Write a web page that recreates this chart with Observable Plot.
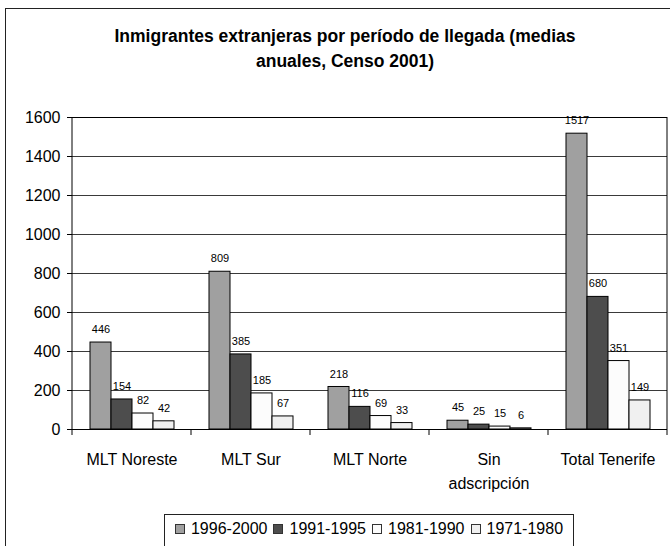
<!DOCTYPE html>
<html>
<head>
<meta charset="utf-8">
<script src="https://cdn.jsdelivr.net/npm/d3@7"></script>
<script src="https://cdn.jsdelivr.net/npm/@observablehq/plot@0.6"></script>
<style>
  html, body { margin: 0; padding: 0; width: 670px; height: 546px; overflow: hidden; background: #fff; }
  body { position: relative; font-family: "Liberation Sans", Arial, sans-serif; color: #000; }
  #frame { position: absolute; left: 5px; top: 8px; width: 720px; height: 600px; border: 1px solid #222; box-sizing: border-box; }
  #title { position: absolute; left: 45px; width: 600px; top: 24px; text-align: center; font-weight: bold; font-size: 17.5px; line-height: 25px; }
  #chart { position: absolute; left: 0; top: 90px; }
  #legend { position: absolute; left: 164px; top: 514px; width: 410px; height: 50px; border: 1px solid #222; box-sizing: border-box;
            display: flex; align-items: flex-start; justify-content: center; padding-top: 5px; font-size: 16px; }
  .item { display: flex; align-items: center; margin: 0 3px; }
  .sw { width: 8px; height: 8px; border: 1px solid #333; margin-right: 6px; }
</style>
</head>
<body>
<div id="frame"></div>
<div id="title">Inmigrantes extranjeras por período de llegada (medias<br>anuales, Censo 2001)</div>
<div id="chart"></div>
<div id="legend"></div>
<script>
const categories = ["MLT Noreste", "MLT Sur", "MLT Norte", "Sin\nadscripción", "Total Tenerife"];
const periods = ["1996-2000", "1991-1995", "1981-1990", "1971-1980"];
const v1996_2000 = [446, 809, 218, 45, 1517];
const v1991_1995 = [154, 385, 116, 25, 680];
const v1981_1990 = [82, 185, 69, 15, 351];
const v1971_1980 = [42, 67, 33, 6, 149];
const yTicks = [0, 200, 400, 600, 800, 1000, 1200, 1400, 1600];
const colors = ["#a0a0a0", "#4d4d4d", "#fcfcfc", "#f0f0f0"];

const series = [v1996_2000, v1991_1995, v1981_1990, v1971_1980];
const data = [];
categories.forEach((c, i) => periods.forEach((p, j) => data.push({cat: c, period: p, value: series[j][i]})));

const chart = Plot.plot({
  width: 670,
  height: 420,
  marginLeft: 72,
  marginRight: 3,
  marginTop: 27,
  marginBottom: 81,
  style: {fontFamily: "'Liberation Sans', Arial, sans-serif", color: "#000", background: "transparent"},
  fx: {domain: categories, padding: 0},
  x: {domain: periods, paddingInner: 0, paddingOuter: 0.77, axis: null},
  y: {domain: [0, 1600]},
  color: {domain: periods, range: colors},
  marks: [
    Plot.gridY(yTicks, {stroke: "#3a3a3a", strokeOpacity: 1, strokeWidth: 1}),
    Plot.ruleY([0, 1600], {stroke: "#000", strokeWidth: 1}),
    Plot.barY(data, {fx: "cat", x: "period", y: "value", fill: "period", stroke: "#000", strokeWidth: 1}),
    Plot.text(data, {fx: "cat", x: "period", y: "value", text: d => String(d.value), fontSize: 11, dy: -13, fill: "#000"}),
    Plot.axisY(yTicks, {tickSize: 5, tickPadding: 7, fontSize: 16, label: null, stroke: "#000", tickFormat: d => String(d)}),
    Plot.axisFx({anchor: "bottom", tickSize: 0, tickPadding: 18, fontSize: 16, label: null, lineHeight: 1.5})
  ]
});
document.getElementById("chart").appendChild(chart);

// frame lines and category boundary ticks computed from the chart's own scales
const fx = chart.scale("fx");
const ys = chart.scale("y");
const y0 = ys.apply(0), yTop = ys.apply(1600);
const bounds = categories.map(c => fx.apply(c)).concat([fx.apply(categories[categories.length - 1]) + fx.bandwidth]);
const g = d3.select(chart).append("g").attr("stroke", "#000").attr("stroke-width", 1);
bounds.forEach((bx, i) => {
  const edge = i === 0 || i === bounds.length - 1;
  g.append("line").attr("x1", bx).attr("x2", bx).attr("y1", edge ? yTop : y0).attr("y2", y0 + 6);
});

// legend
const color = chart.scale("color");
const leg = d3.select("#legend");
periods.forEach(p => {
  const it = leg.append("div").attr("class", "item");
  it.append("div").attr("class", "sw").style("background", color.apply(p));
  it.append("span").text(p);
});
</script>
</body>
</html>
